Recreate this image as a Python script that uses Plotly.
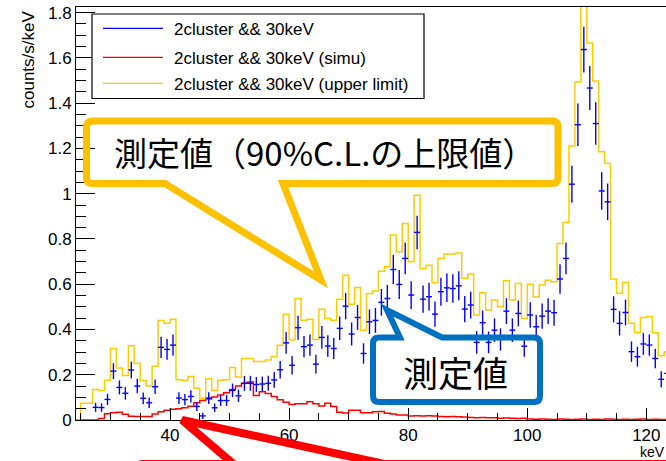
import plotly.graph_objects as go

# ---------------- data ----------------
# 1 keV bins, left edges
bin_low = list(range(24, 124))          # 24 ... 123

# measured points (blue), bins 27 ... 123
meas_low = list(range(27, 124))
meas_val = [0.056, 0.055, 0.091, 0.216, 0.144, 0.118, 0.221, 0.150, 0.096, 0.076,
            0.147, 0.321, 0.312, 0.331, 0.097, 0.090, 0.104, 0.060, 0.018, 0.097,
            0.054, 0.086, 0.086, 0.131, 0.107, 0.162, 0.162, 0.157, 0.159, 0.162,
            0.177, 0.222, 0.341, 0.242, 0.408, 0.324, 0.331, 0.247, 0.365, 0.327,
            0.316, 0.405, 0.503, 0.380, 0.453, 0.294, 0.434, 0.440, 0.520, 0.537,
            0.665, 0.599, 0.714, 0.552, 0.829, 0.534, 0.545, 0.468, 0.567, 0.584,
            0.581, 0.593, 0.490, 0.508, 0.343, 0.430, 0.343, 0.397, 0.356, 0.481,
            0.397, 0.471, 0.326, 0.464, 0.412, 0.459, 0.481, 0.474, 0.623, 0.714,
            1.042, 1.305, 1.637, 1.467, 1.310, 1.012, 0.964, 0.489, 0.427, 0.475,
            0.302, 0.280, 0.336, 0.331, 0.272, 0.180, 0.206]
meas_err = [0.020, 0.019, 0.025, 0.035, 0.031, 0.028, 0.037, 0.032, 0.026, 0.023,
            0.032, 0.047, 0.046, 0.047, 0.026, 0.025, 0.027, 0.020, 0.014, 0.026,
            0.019, 0.024, 0.024, 0.030, 0.027, 0.033, 0.033, 0.033, 0.033, 0.033,
            0.035, 0.039, 0.048, 0.041, 0.053, 0.047, 0.047, 0.041, 0.050, 0.047,
            0.046, 0.052, 0.058, 0.051, 0.055, 0.045, 0.054, 0.055, 0.059, 0.060,
            0.064, 0.064, 0.070, 0.061, 0.074, 0.060, 0.061, 0.056, 0.062, 0.063,
            0.063, 0.064, 0.058, 0.059, 0.050, 0.054, 0.048, 0.052, 0.049, 0.057,
            0.052, 0.057, 0.047, 0.056, 0.053, 0.056, 0.057, 0.057, 0.065, 0.070,
            0.082, 0.094, 0.101, 0.097, 0.094, 0.083, 0.081, 0.058, 0.054, 0.057,
            0.045, 0.044, 0.048, 0.047, 0.043, 0.035, 0.037]

# simulation (red), bins 24 ... 123
simu_val = [0, 0, 0, 0, 0.007, 0.028, 0.032, 0.034, 0.025, 0.017,
            0.016, 0.016, 0.016, 0.026, 0.036, 0.043, 0.047, 0.050, 0.054, 0.061,
            0.076, 0.086, 0.093, 0.102, 0.110, 0.120, 0.135, 0.150, 0.162, 0.168,
            0.108, 0.125, 0.117, 0.104, 0.089, 0.078, 0.068, 0.072, 0.072, 0.081,
            0.072, 0.062, 0.074, 0.060, 0.034, 0.031, 0.043, 0.043, 0.032, 0.032,
            0.036, 0.038, 0.030, 0.027, 0.022, 0.022, 0.018, 0.019, 0.018, 0.019,
            0.018, 0.015, 0.014, 0.016, 0.014, 0.013, 0.011, 0.010, 0.011, 0.010,
            0.010, 0.008, 0.009, 0.008, 0.007, 0.008, 0.004, 0.003, 0.004, 0.003,
            0.002, 0.004, 0.003, 0.002, 0.003, 0.004, 0.002, 0.003, 0.002, 0.004,
            0.003, 0.002, 0.003, 0.002, 0.003, 0.004, 0.002, 0.003, 0.002, 0.002]

# 90% C.L. upper limit (yellow), bins 24 ... 123
upper_val = [0, 0.074, 0.074, 0.135, 0.130, 0.176, 0.316, 0.230, 0.197, 0.328,
             0.250, 0.175, 0.150, 0.238, 0.440, 0.428, 0.445, 0.178, 0.176, 0.192,
             0.140, 0.096, 0.182, 0.130, 0.176, 0.178, 0.232, 0.190, 0.272, 0.272,
             0.258, 0.258, 0.265, 0.280, 0.330, 0.467, 0.353, 0.537, 0.441, 0.445,
             0.356, 0.489, 0.449, 0.441, 0.534, 0.640, 0.512, 0.586, 0.397, 0.559,
             0.570, 0.657, 0.677, 0.817, 0.743, 0.868, 0.699, 0.993, 0.670, 0.684,
             0.606, 0.714, 0.733, 0.733, 0.738, 0.626, 0.645, 0.464, 0.562, 0.486,
             0.530, 0.500, 0.615, 0.530, 0.603, 0.449, 0.600, 0.543, 0.596, 0.618,
             0.611, 0.780, 0.873, 1.211, 1.494, 1.900, 1.666, 1.498, 1.185, 1.133,
             0.623, 0.559, 0.608, 0.427, 0.387, 0.453, 0.457, 0.386, 0.284, 0.302]

legend_names = ["2cluster && 30keV", "2cluster && 30keV (simu)",
                "2cluster && 30keV (upper limit)"]
series_colors = ["#0000FF", "#FF0000", "#FFCC00"]
y_ticks = [0, 0.2, 0.4, 0.6, 0.8, 1, 1.2, 1.4, 1.6, 1.8]
x_ticks = [40, 60, 80, 100, 120]

assert len(meas_val) == len(meas_low) == len(meas_err)
assert len(simu_val) == len(bin_low) == len(upper_val)

# ---------------- layout geometry ----------------
W, H = 666, 461
ML, MR, MT, MB = 76, 0, 7, 41
PW, PH = W - ML - MR, H - MT - MB
X_RANGE = [24.21, 123.30]
Y_RANGE = [0, 1.825]


def pxx(x):
    return (x - ML) / PW


def pxy(y):
    return 1 - (y - MT) / PH


def path_px(cmds):
    out = []
    for c in cmds:
        if c[0] == "Z":
            out.append("Z")
        else:
            op = c[0]
            pts = c[1:]
            s = op + " " + " ".join(f"{pxx(pts[i]):.5f},{pxy(pts[i+1]):.5f}"
                                     for i in range(0, len(pts), 2))
            out.append(s)
    return " ".join(out)


fig = go.Figure()

edges = bin_low + [bin_low[-1] + 1]

# simulation histogram
fig.add_trace(go.Scatter(x=edges, y=simu_val + [simu_val[-1]], mode="lines",
                         line=dict(color=series_colors[1], width=1.5, shape="hv"),
                         name=legend_names[1], showlegend=False, cliponaxis=True))
# upper limit histogram
fig.add_trace(go.Scatter(x=edges, y=upper_val + [upper_val[-1]], mode="lines",
                         line=dict(color=series_colors[2], width=1.5, shape="hv"),
                         name=legend_names[2], showlegend=False, cliponaxis=True))
# measured points
fig.add_trace(go.Scatter(x=[b + 0.5 for b in meas_low], y=meas_val, mode="markers",
                         marker=dict(size=0.1, color=series_colors[0]),
                         error_y=dict(type="data", array=meas_err, color=series_colors[0],
                                      thickness=1.4, width=0),
                         error_x=dict(type="constant", value=0.5, color=series_colors[0],
                                      thickness=1.4, width=0),
                         name=legend_names[0], showlegend=False, cliponaxis=True))

axis_font = dict(family="Liberation Sans, Arial, sans-serif", size=17, color="black")

fig.update_layout(
    template="none",
    width=W, height=H,
    margin=dict(l=ML, r=MR, t=MT, b=MB, pad=0, autoexpand=False),
    paper_bgcolor="white", plot_bgcolor="white",
    showlegend=False,
    font=axis_font,
    xaxis=dict(range=X_RANGE, tickmode="array", tickvals=x_ticks, automargin=False,
               ticks="inside", ticklen=12, tickwidth=1, tickcolor="black",
               minor=dict(dtick=5, tick0=0, ticks="inside", ticklen=7, tickcolor="black",
                          showgrid=False),
               showline=True, linecolor="black", linewidth=1, mirror=True,
               showgrid=False, zeroline=False, tickfont=axis_font),
    yaxis=dict(range=Y_RANGE, tickmode="array", tickvals=y_ticks, automargin=False,
               ticks="inside", ticklen=19, tickwidth=1, tickcolor="black",
               minor=dict(dtick=0.05, tick0=0, ticks="inside", ticklen=10, tickcolor="black",
                          showgrid=False),
               showline=True, linecolor="black", linewidth=1, mirror=False,
               showgrid=False, zeroline=False, tickfont=axis_font),
)

shapes = []
annotations = []

# ---- legend box (drawn by hand, ROOT style) ----
shapes.append(dict(type="rect", xref="paper", yref="paper",
                   x0=pxx(92), x1=pxx(424), y0=pxy(98.5), y1=pxy(14),
                   line=dict(color="black", width=1.2), fillcolor="white", layer="above"))
rows = [28.3, 57.3, 83.3]
for name, col, ry in zip(legend_names, series_colors, rows):
    shapes.append(dict(type="line", xref="paper", yref="paper",
                       x0=pxx(103), x1=pxx(163), y0=pxy(ry), y1=pxy(ry),
                       line=dict(color=col, width=1.3), layer="above"))
    annotations.append(dict(text=name, xref="paper", yref="paper",
                            x=pxx(172), y=pxy(ry + 1), xanchor="left", yanchor="middle",
                            showarrow=False, font=axis_font))

# ---- axis titles ----
annotations.append(dict(text="counts/s/keV", xref="paper", yref="paper",
                        x=pxx(27.5), y=pxy(9), xanchor="center", yanchor="top",
                        textangle=-90, showarrow=False, font=axis_font))
annotations.append(dict(text="keV", xref="paper", yref="paper",
                        x=pxx(666), y=pxy(461), xanchor="right", yanchor="bottom",
                        showarrow=False, borderpad=0,
                        font=dict(family="Liberation Sans, Arial, sans-serif",
                                  size=14, color="black")))

# ---- yellow callout ----
x0, x1, y0, y1, r = 86.5, 558, 121, 183.5, 6
yellow_path = path_px([
    ("M", x0 + r, y0), ("L", x1 - r, y0), ("Q", x1, y0, x1, y0 + r),
    ("L", x1, y1 - r), ("Q", x1, y1, x1 - r, y1),
    ("L", 283, y1), ("L", 321, 280), ("L", 165, y1),
    ("L", x0 + r, y1), ("Q", x0, y1, x0, y1 - r),
    ("L", x0, y0 + r), ("Q", x0, y0, x0 + r, y0), ("Z",)])
shapes.append(dict(type="path", xref="paper", yref="paper", path=yellow_path,
                   line=dict(color="#FFC000", width=7), fillcolor="rgba(255,255,255,0)",
                   layer="above"))
annotations.append(dict(text="測定値（90%C.L.の上限値）", xref="paper", yref="paper",
                        x=pxx(324), y=pxy(152), xanchor="center", yanchor="middle",
                        showarrow=False,
                        font=dict(family="Noto Sans CJK JP", size=33, color="black")))

# ---- blue callout ----
x0, x1, y0, y1, r = 373, 540, 337.5, 402, 6
blue_path = path_px([
    ("M", x0 + r, y0), ("L", 400, y0), ("L", 387, 310), ("L", 442, y0),
    ("L", x1 - r, y0), ("Q", x1, y0, x1, y0 + r),
    ("L", x1, y1 - r), ("Q", x1, y1, x1 - r, y1),
    ("L", x0 + r, y1), ("Q", x0, y1, x0, y1 - r),
    ("L", x0, y0 + r), ("Q", x0, y0, x0 + r, y0), ("Z",)])
shapes.append(dict(type="path", xref="paper", yref="paper", path=blue_path,
                   line=dict(color="#0070C0", width=6), fillcolor="rgba(255,255,255,0)",
                   layer="above"))
annotations.append(dict(text="測定値", xref="paper", yref="paper",
                        x=pxx(455), y=pxy(371), xanchor="center", yanchor="middle",
                        showarrow=False,
                        font=dict(family="Noto Sans CJK JP", size=35, color="black")))

# ---- red callout (box lies below the visible area) ----
red_path = path_px([
    ("M", 137, 530), ("L", 137, 470), ("Q", 137, 464, 143, 464),
    ("L", 233.5, 464), ("L", 182, 420), ("L", 384, 464), ("L", 720, 464)])
shapes.append(dict(type="path", xref="paper", yref="paper", path=red_path,
                   line=dict(color="#FF0000", width=8), fillcolor="rgba(255,255,255,0)",
                   layer="above"))

fig.update_layout(shapes=shapes, annotations=annotations)

# remove the browser's default 8px page margin so the figure fills the window
fig.write_html("out.html",
               config={"displayModeBar": False},
               post_script="document.body.style.margin='0';"
                           "document.body.style.overflow='hidden';")
